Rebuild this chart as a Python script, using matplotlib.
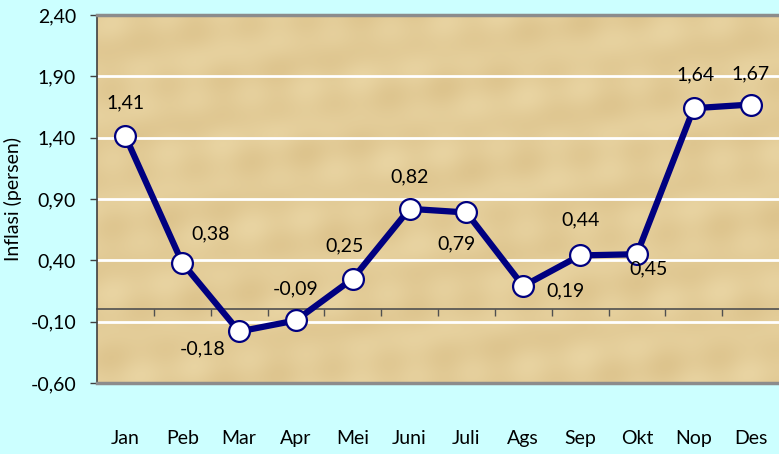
import numpy as np
import matplotlib
matplotlib.use("Agg")
import matplotlib.pyplot as plt
from matplotlib.ticker import FuncFormatter

months = ["Jan", "Peb", "Mar", "Apr", "Mei", "Juni",
          "Juli", "Ags", "Sep", "Okt", "Nop", "Des"]
inflasi = [1.41, 0.38, -0.18, -0.09, 0.25, 0.82,
           0.79, 0.19, 0.44, 0.45, 1.64, 1.67]
# label offsets in pixels (dx, dy), dy positive = up
offsets = [(0, 34), (28, 29), (-36, -17), (0, 32), (-8, 33), (0, 32),
           (-10, -31), (42, -5), (0, 36), (12, -15), (2, 33), (0, 31)]

plt.rcParams["font.family"] = ["Lato", "DejaVu Sans"]
plt.rcParams["font.size"] = 14

fig = plt.figure(figsize=(7.79, 4.54), dpi=100, facecolor="#CCFFFF")
ax = fig.add_axes([97 / 779, 1 - 383 / 454, 682 / 779, 368 / 454])

x = np.arange(len(months))
ax.set_xlim(-0.5, len(months) - 0.5)
ax.set_ylim(-0.6, 2.4)

# papyrus-like background
yy, xx = np.mgrid[0:120, 0:240]
tex = (0.5 + 0.18 * np.sin(xx / 3.1) * np.cos(yy / 7.3)
       + 0.15 * np.sin(yy / 2.3 + xx / 17.0)
       + 0.12 * np.cos(xx / 11.0 + yy / 5.0))
base = np.array([0.915, 0.835, 0.640])
dark = np.array([0.865, 0.765, 0.550])
img = base[None, None, :] * tex[..., None] + dark[None, None, :] * (1 - tex[..., None])
ax.imshow(np.clip(img, 0, 1), extent=(-0.5, 11.5, -0.6, 2.4),
          aspect="auto", zorder=0, interpolation="bilinear")

yticks = np.arange(-0.6, 2.41, 0.5)
ax.set_yticks(yticks)
ax.yaxis.set_major_formatter(FuncFormatter(lambda v, p: f"{v:.2f}".replace(".", ",")))
for yv in yticks[1:-1]:
    ax.axhline(yv, color="white", lw=2, zorder=1)

ax.set_xticks(x)
ax.set_xticklabels(months)
ax.tick_params(axis="x", length=0, pad=34)
ax.tick_params(axis="y", length=5, width=1, color="#404040", pad=10)

for s in ["top", "bottom"]:
    ax.spines[s].set_color("#8C8C8C")
    ax.spines[s].set_linewidth(2.5)
ax.spines["left"].set_color("#404040")
ax.spines["left"].set_linewidth(1.2)
ax.spines["right"].set_visible(False)

# category axis at y = 0
sec = ax.secondary_xaxis(0.6 / 3.0)
sec.set_xticks(np.arange(0.5, 11.5, 1))
sec.set_xticklabels([])
sec.tick_params(length=5, width=1, color="#505050", direction="out")
sec.spines["bottom"].set_color("#505050")
sec.spines["bottom"].set_linewidth(1.2)

ax.plot(x, inflasi, color="#000080", lw=4.5, marker="o", markersize=15,
        markerfacecolor="white", markeredgecolor="#000080",
        markeredgewidth=1.6, zorder=5)

for xi, v, (dx, dy) in zip(x, inflasi, offsets):
    ax.annotate(f"{v:.2f}".replace(".", ","), (xi, v),
                xytext=(dx * 0.72, dy * 0.72), textcoords="offset points",
                ha="center", va="center", color="black", zorder=6)

ax.set_ylabel("Inflasi (persen)", labelpad=6)

fig.savefig("out.png", dpi=100, facecolor=fig.get_facecolor())
